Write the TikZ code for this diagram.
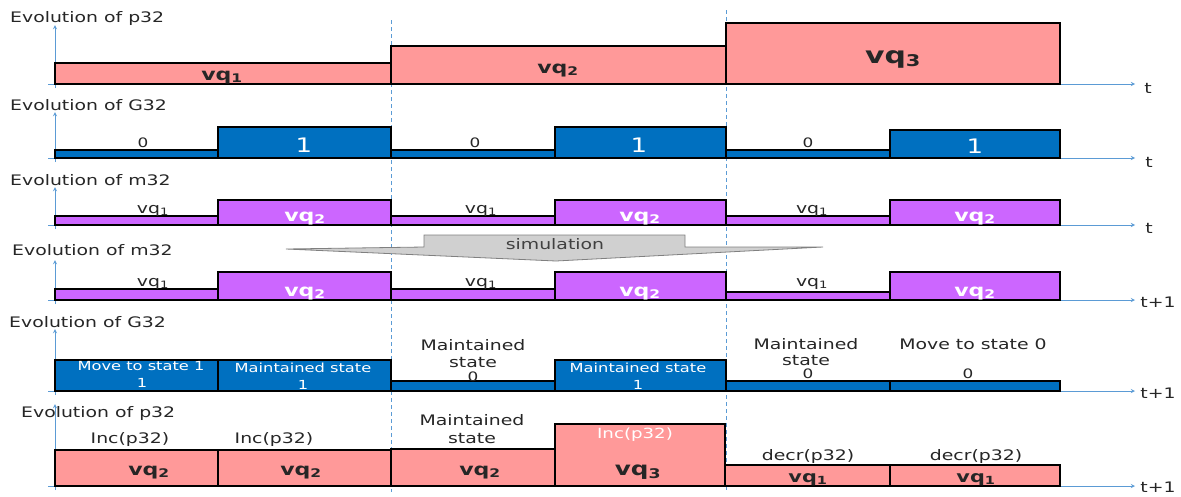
\documentclass[tikz,border=0pt]{standalone}
\usepackage{fontspec}
\setmainfont{DejaVu Sans}[FakeStretch=1.3]
\usepackage{tikz}
\usepackage{xcolor}
\definecolor{pinkbar}{HTML}{FF9999}
\definecolor{bluebar}{HTML}{0070C0}
\definecolor{violetbar}{HTML}{CC66FF}
\definecolor{axisblue}{HTML}{5B9BD5}
\definecolor{simgray}{HTML}{D0D0D0}
\definecolor{txtgray}{HTML}{262626}
\newcommand{\vq}[1]{vq\textsubscript{#1}}

\begin{document}
\begin{tikzpicture}[x=1pt,y=-1pt,
  pbar/.style={draw=black,fill=pinkbar,line width=1.1pt},
  gbar/.style={draw=black,fill=bluebar,line width=1.1pt},
  mbar/.style={draw=black,fill=violetbar,line width=1.1pt},
  axis/.style={->,>=stealth,axisblue,line width=0.9pt},
  sep/.style={axisblue,line width=0.8pt,dash pattern=on 4pt off 3pt},
  title/.style={anchor=base west,inner sep=0pt,text=txtgray,font=\fontsize{14.5}{17}\selectfont},
  lbl/.style={anchor=base,inner sep=0pt,text=txtgray,font=\fontsize{14.5}{17}\selectfont},
  small/.style={anchor=base,inner sep=0pt,text=txtgray,font=\fontsize{13}{15}\selectfont},
  wlbl/.style={anchor=base,inner sep=0pt,text=white,font=\fontsize{12.5}{15}\selectfont},
  vqb/.style={anchor=base,inner sep=0pt,text=txtgray,font=\fontsize{17}{17}\selectfont\bfseries},
  vqw/.style={anchor=base,inner sep=0pt,text=white,font=\fontsize{17}{17}\selectfont\bfseries}]
\useasboundingbox (0,0) rectangle (1181,496);

% period separators
\draw[sep] (391,20) -- (391,492);
\draw[sep] (726,10) -- (726,492);

% axes
\draw[axis] (55,88) -- (55,25);   \draw[axis] (48,84) -- (1135,84);
\draw[axis] (55,162) -- (55,112); \draw[axis] (48,158) -- (1135,158);
\draw[axis] (55,229) -- (55,187); \draw[axis] (48,225) -- (1135,225);
\draw[axis] (55,304) -- (55,260); \draw[axis] (48,300) -- (1135,300);
\draw[axis] (55,395) -- (55,329); \draw[axis] (48,391) -- (1135,391);
\draw[axis] (55,490) -- (55,404); \draw[axis] (48,486) -- (1135,486);

\node[lbl] (t1) at (1148,93) {t};
\node[lbl] (t2) at (1149,167) {t};
\node[lbl] (t3) at (1149,233) {t};
\node[lbl] (t4) at (1158,307) {t+1};
\node[lbl] (t5) at (1158,398) {t+1};
\node[lbl] (t6) at (1158,492) {t+1};

% p32 at t
\node[title] (tp1) at (10,22) {Evolution of p32};
\draw[pbar] (55,84) rectangle (391,63);
\draw[pbar] (391,84) rectangle (726,46);
\draw[pbar] (726,84) rectangle (1060,23);
\node[vqb] (p1a) at (222,80) {\vq{1}};
\node[vqb] (p1b) at (558,73) {\vq{2}};
\node[vqb,font=\fontsize{23}{23}\selectfont\bfseries] (p1c) at (893,63) {\vq{3}};

% G32 at t
\node[title] (tg1) at (10,110) {Evolution of G32};
\draw[gbar] (55,158) rectangle (218,150);
\draw[gbar] (218,158) rectangle (391,127);
\draw[gbar] (391,158) rectangle (555,150);
\draw[gbar] (555,158) rectangle (726,127);
\draw[gbar] (726,158) rectangle (890,150);
\draw[gbar] (890,158) rectangle (1060,130);
\node[small] (g1a) at (143,147) {0};
\node[small] (g1c) at (475,147) {0};
\node[small] (g1e) at (808,147) {0};
\node[wlbl,font=\fontsize{20}{20}\selectfont] (g1b) at (304,152) {1};
\node[wlbl,font=\fontsize{20}{20}\selectfont] (g1d) at (639,152) {1};
\node[wlbl,font=\fontsize{20}{20}\selectfont] (g1f) at (975,153) {1};

% m32 at t
\node[title] (tm1) at (10,185) {Evolution of m32};
\draw[mbar] (55,225) rectangle (218,216);
\draw[mbar] (218,225) rectangle (391,200);
\draw[mbar] (391,225) rectangle (555,216);
\draw[mbar] (555,225) rectangle (726,200);
\draw[mbar] (726,225) rectangle (890,216);
\draw[mbar] (890,225) rectangle (1060,200);
\node[lbl] (m1a) at (153,213) {\vq{1}};
\node[lbl] (m1c) at (481,213) {\vq{1}};
\node[lbl] (m1e) at (812,213) {\vq{1}};
\node[vqw] (m1b) at (305,221) {\vq{2}};
\node[vqw] (m1d) at (640,221) {\vq{2}};
\node[vqw] (m1f) at (975,221) {\vq{2}};

% simulation arrow
\draw[fill=simgray,draw=gray,line width=0.8pt] (286,249) -- (424,247) -- (424,235) -- (685,235)
  -- (685,247) -- (823,247) -- (556,261) -- cycle;
\node[lbl,text=black!75] (sim) at (555,249) {simulation};

% m32 at t+1
\node[title] (tm2) at (12,255) {Evolution of m32};
\draw[mbar] (55,300) rectangle (218,289);
\draw[mbar] (218,300) rectangle (391,272);
\draw[mbar] (391,300) rectangle (555,289);
\draw[mbar] (555,300) rectangle (726,272);
\draw[mbar] (726,300) rectangle (890,292);
\draw[mbar] (890,300) rectangle (1060,272);
\node[lbl] (m2a) at (153,286) {\vq{1}};
\node[lbl] (m2c) at (481,286) {\vq{1}};
\node[lbl] (m2e) at (812,286) {\vq{1}};
\node[vqw] (m2b) at (305,296) {\vq{2}};
\node[vqw] (m2d) at (640,296) {\vq{2}};
\node[vqw] (m2f) at (975,296) {\vq{2}};

% G32 at t+1
\node[title] (tg2) at (9,327) {Evolution of G32};
\draw[gbar] (55,391) rectangle (218,360);
\draw[gbar] (218,391) rectangle (391,360);
\draw[gbar] (391,391) rectangle (555,381);
\draw[gbar] (555,391) rectangle (726,360);
\draw[gbar] (726,391) rectangle (890,381);
\draw[gbar] (890,391) rectangle (1060,381);
\node[wlbl] (g2a) at (141,370) {Move to state 1};
\node[wlbl] (g2a1) at (142,387) {1};
\node[wlbl] (g2b) at (303,372) {Maintained state};
\node[wlbl] (g2b1) at (303,389) {1};
\node[lbl] (g2c) at (473,350) {Maintained};
\node[lbl] (g2c2) at (473,367) {state};
\node[small] (g2c1) at (473,381) {0};
\node[wlbl] (g2d) at (638,372) {Maintained state};
\node[wlbl] (g2d1) at (638,389) {1};
\node[lbl] (g2e) at (806,349) {Maintained};
\node[lbl] (g2e2) at (806,365) {state};
\node[small] (g2e1) at (808,378) {0};
\node[lbl] (g2f) at (973,349) {Move to state 0};
\node[small] (g2f1) at (968,378) {0};

% p32 at t+1
\node[title] (tp2) at (21,417) {Evolution of p32};
\draw[pbar] (55,486) rectangle (218,450);
\draw[pbar] (218,486) rectangle (391,450);
\draw[pbar] (391,486) rectangle (555,449);
\draw[pbar] (555,486) rectangle (725,424);
\draw[pbar] (725,486) rectangle (890,465);
\draw[pbar] (890,486) rectangle (1060,465);
\node[lbl] (p2a) at (130,443) {Inc(p32)};
\node[lbl] (p2b) at (274,443) {Inc(p32)};
\node[lbl] (p2c) at (472,425) {Maintained};
\node[lbl] (p2c2) at (472,443) {state};
\node[lbl,text=white,font=\fontsize{14}{16}\selectfont] (p2d) at (635,438) {Inc(p32)};
\node[lbl] (p2e) at (808,460) {decr(p32)};
\node[lbl] (p2f) at (976,460) {decr(p32)};
\node[vqb] (p2a1) at (149,475) {\vq{2}};
\node[vqb] (p2b1) at (301,475) {\vq{2}};
\node[vqb] (p2c1) at (480,475) {\vq{2}};
\node[vqb,font=\fontsize{19}{19}\selectfont\bfseries] (p2d1) at (638,475) {\vq{3}};
\node[vqb,font=\fontsize{16}{16}\selectfont\bfseries] (p2e1) at (808,482) {\vq{1}};
\node[vqb,font=\fontsize{16}{16}\selectfont\bfseries] (p2f1) at (976,482) {\vq{1}};
\end{tikzpicture}
\end{document}
